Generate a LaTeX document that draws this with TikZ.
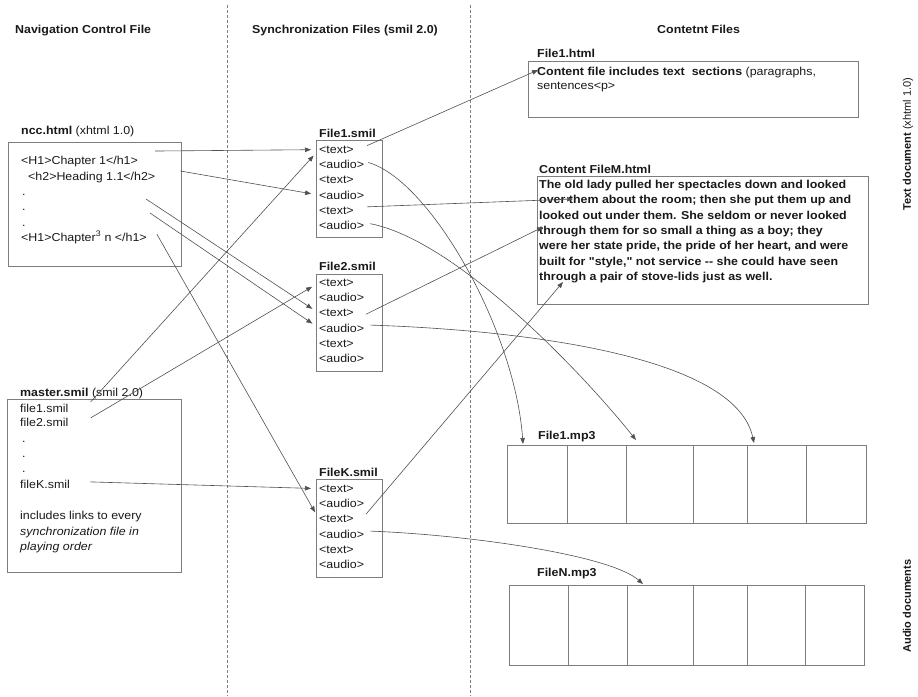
\documentclass[tikz,border=0pt]{standalone}
\usepackage{fontspec}
\setmainfont{Liberation Sans}
\newfontfamily\bodyfont{Liberation Sans}[FakeStretch=1.08]
\newfontfamily\sidefont{Liberation Sans}
\usepackage{xcolor}
\usepackage{tikz}
\usetikzlibrary{arrows.meta}
\definecolor{boxgray}{RGB}{125,125,125}
\definecolor{linkgray}{RGB}{80,80,80}
\definecolor{inkgray}{RGB}{25,25,25}

\begin{document}
\begin{tikzpicture}[x=1pt,y=-1pt,
    txt/.style={anchor=base west,inner sep=0pt,text=inkgray,font=\bodyfont\fontsize{11.5}{15.3}\selectfont},
    ttl/.style={txt,font=\bodyfont\fontsize{11.5}{15.3}\selectfont\bfseries},
    filebox/.style={draw=boxgray,line width=0.9pt},
    divider/.style={draw=boxgray,line width=0.7pt,dash pattern=on 3pt off 2pt},
    link/.style={draw=linkgray,line width=0.6pt,-{Triangle[length=6pt,width=4.5pt]}},
    tobox/.style={link,shorten >=8pt}]
    \useasboundingbox (0,0) rectangle (918,696);

    \node[ttl] (navtitle) at (15,33) {Navigation Control File};
    \node[ttl] (synctitle) at (252,33) {Synchronization Files (smil 2.0)};
    \node[ttl] (contitle) at (657,33) {Contetnt Files};
    \draw[divider] (227,5) -- (227,696);
    \draw[divider] (470,5) -- (470,696);

    \node[txt] (ncclabel) at (21,134) {\textbf{ncc.html} (xhtml 1.0)};
    \draw[filebox] (8,142) rectangle (181,266);
    \node[txt] (chone) at (21,164) {<H1>Chapter 1</h1>};
    \node[txt] (headone) at (28,180) {<h2>Heading 1.1</h2>};
    \node[txt] (nccdota) at (22,195) {.};
    \node[txt] (nccdotb) at (22,210) {.};
    \node[txt] (nccdotc) at (22,226) {.};
    \node[txt] (chn) at (21,241) {<H1>Chapter\textsuperscript{3} n </h1>};
    \coordinate (dotalink) at (146,199);
    \coordinate (dotblink) at (150,213);

    \node[txt] (masterlabel) at (20,396) {\textbf{master.smil} (smil 2.0)};
    \draw[filebox] (7,399) rectangle (181,572);
    \node[txt] (mone) at (20,412) {file1.smil};
    \node[txt] (mtwo) at (20,426) {file2.smil};
    \node[txt] (masterdota) at (22,442) {.};
    \node[txt] (masterdotb) at (22,457) {.};
    \node[txt] (masterdotc) at (22,472) {.};
    \node[txt] (mk) at (20,488) {fileK.smil};
    \node[txt] (mnotea) at (20,519) {includes links to every};
    \node[txt] (mnoteb) at (20,535) {\itshape synchronization file in};
    \node[txt] (mnotec) at (20,550) {\itshape playing order};

    \node[ttl] (smilonelabel) at (319,137) {File1.smil};
    \draw[filebox] (316,140) rectangle (382,237);
    \node[txt] (f1i1) at (319,153.3) {<text>};
    \node[txt] (f1i2) at (319,168.6) {<audio>};
    \node[txt] (f1i3) at (319,183.9) {<text>};
    \node[txt] (f1i4) at (319,199.2) {<audio>};
    \node[txt] (f1i5) at (319,214.5) {<text>};
    \node[txt] (f1i6) at (319,229.8) {<audio>};

    \node[ttl] (smiltwolabel) at (319,270) {File2.smil};
    \draw[filebox] (316,274) rectangle (382,371);
    \node[txt] (f2i1) at (319,286.3) {<text>};
    \node[txt] (f2i2) at (319,301.6) {<audio>};
    \node[txt] (f2i3) at (319,316.9) {<text>};
    \node[txt] (f2i4) at (319,332.2) {<audio>};
    \node[txt] (f2i5) at (319,347.5) {<text>};
    \node[txt] (f2i6) at (319,362.8) {<audio>};

    \node[ttl] (smilklabel) at (319,476) {FileK.smil};
    \draw[filebox] (316,479) rectangle (382,577);
    \node[txt] (fki1) at (319,492.3) {<text>};
    \node[txt] (fki2) at (319,507.6) {<audio>};
    \node[txt] (fki3) at (319,522.9) {<text>};
    \node[txt] (fki4) at (319,538.2) {<audio>};
    \node[txt] (fki5) at (319,553.5) {<text>};
    \node[txt] (fki6) at (319,568.8) {<audio>};

    \node[ttl] (htmlonelabel) at (537,57) {File1.html};
    \draw[filebox] (528,61) rectangle (858,117);
    \node[txt] (htmlone) at (537,75) {\textbf{Content file includes text\ \ sections} (paragraphs,};
    \node[txt] (htmlonemore) at (537,89) {sentences<p>};
    \coordinate (htmlonein) at (538,70);

    \node[ttl] (filemlabel) at (539,173) {Content FileM.html};
    \draw[filebox] (537,176) rectangle (868,304);
    \node[ttl,anchor=north west,align=left] (filemtext) at (539,180) {The old lady pulled her spectacles down and looked\\
        over them about the room; then she put them up and\\
        looked out under them. She seldom or never looked\\
        through them for so small a thing as a boy; they\\
        were her state pride, the pride of her heart, and were\\
        built for "style," not service -{}- she could have seen\\
        through a pair of stove-lids just as well.};
    \coordinate (overthem) at (573,199);
    \coordinate (throughthem) at (543,227);
    \coordinate (stovelids) at (563,282);

    \node[ttl] (mponelabel) at (538,439) {File1.mp3};
    \draw[filebox] (507,445) rectangle (866,523)
        (567,445) -- (567,523) (626,445) -- (626,523) (693,445) -- (693,523)
        (747,445) -- (747,523) (806,445) -- (806,523);
    \node[ttl] (mpnlabel) at (537,576) {FileN.mp3};
    \draw[filebox] (509,585) rectangle (864,665)
        (568,585) -- (568,665) (627,585) -- (627,665) (693,585) -- (693,665)
        (747,585) -- (747,665) (805,585) -- (805,665);
    \coordinate (mponeA) at (523,444);
    \coordinate (mponeB) at (636,440);
    \coordinate (mponeC) at (754,443);
    \coordinate (mpnA) at (643,584);

    \node[rotate=90,inner sep=0pt,text=inkgray,font=\sidefont\fontsize{11}{13}\selectfont] (textdoc) at (908,144) {\textbf{Text document} (xhtml 1.0)};
    \node[rotate=90,inner sep=0pt,text=inkgray,font=\sidefont\fontsize{11}{13}\selectfont\bfseries] (audiodoc) at (907,606) {Audio documents};

    \draw[tobox] ([shift={(17,-10)}]chone.east) -- (f1i1.west);
    \draw[tobox] ([shift={(25,-6)}]headone.east) -- (f1i4.west);
    \draw[tobox] (dotalink) -- (f2i3.west);
    \draw[tobox] (dotblink) -- (f2i4.west);
    \draw[tobox] ([shift={(10,-3)}]chn.east) -- (fki3.west);
    \draw[tobox] ([shift={(22,-6)}]mone.east) -- (f1i1.west);
    \draw[tobox] ([shift={(22,-4)}]mtwo.east) -- (f2i1.west);
    \draw[tobox] ([shift={(20,-2)}]mk.east) -- (fki1.west);

    \draw[link] ([shift={(13,-4)}]f1i1.east) -- (htmlonein);
    \draw[link] ([shift={(4,-2)}]f1i2.east) .. controls (430,180) and (515,330) .. (mponeA);
    \draw[link] ([shift={(13,-4)}]f1i5.east) -- (overthem);
    \draw[link] ([shift={(6,-2)}]f1i6.east) .. controls (455,240) and (580,370) .. (mponeB);
    \draw[link] ([shift={(12,1)}]f2i3.east) -- (throughthem);
    \draw[link] ([shift={(6,-3)}]f2i4.east) .. controls (520,330) and (735,355) .. (mponeC);
    \draw[link] ([shift={(12,-5)}]fki3.east) -- (stovelids);
    \draw[link] ([shift={(6,-3)}]fki4.east) .. controls (470,535) and (610,555) .. (mpnA);
\end{tikzpicture}
\end{document}
